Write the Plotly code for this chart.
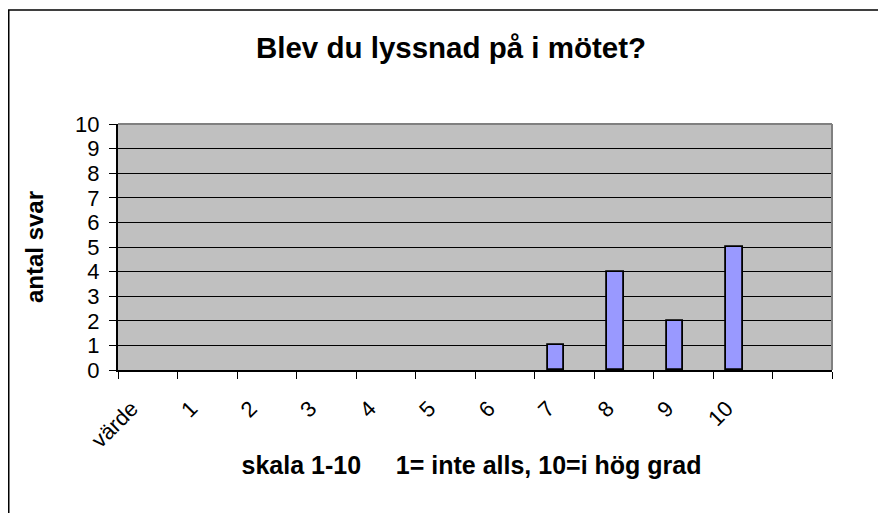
import plotly.graph_objects as go

categories = ["värde", "1", "2", "3", "4", "5", "6", "7", "8", "9", "10", " "]
counts = [None, None, None, None, None, None, None, 1, 4, 2, 5, None]
y_ticks = [0, 1, 2, 3, 4, 5, 6, 7, 8, 9, 10]

title_text = "Blev du lyssnad på i mötet?"
x_title = "skala 1-10" + "\u00a0" * 5 + "1= inte alls, 10=i hög grad" + "\u00a0"
y_title = "antal svar"

FONT = "Liberation Sans, Arial, sans-serif"

# page body has an 8px margin; figure is sized/offset to compensate
W, H = 878, 505
ML, MR, MT, MB = 110, 54, 116, 143
PW, PH = W - ML - MR, H - MT - MB

fig = go.Figure()
fig.add_trace(go.Bar(
    x=categories, y=counts,
    marker=dict(color="#9999FF", line=dict(color="black", width=1.8)),
    width=0.28, offset=-0.28,
    showlegend=False,
))

fig.update_layout(
    width=W, height=H, autosize=False,
    margin=dict(l=ML, r=MR, t=MT, b=MB),
    paper_bgcolor="white", plot_bgcolor="#C0C0C0",
    font=dict(family=FONT, color="black"),
    title=dict(text=f"<b>{title_text}</b>", font=dict(size=29.5, family=FONT, color="black"),
               x=0.4664, xref="paper", xanchor="center", y=0.921, yref="container", yanchor="middle"),
    xaxis=dict(
        type="category", categoryorder="array", categoryarray=categories,
        range=[-0.5, 11.5],
        tickson="boundaries", ticks="outside", ticklen=7, tickcolor="black", tickwidth=1,
        tickangle=-45, tickfont=dict(size=22, family=FONT),
        showline=True, linecolor="black", linewidth=2,
        showgrid=False, zeroline=False,
        ticklabelshift=-16, ticklabelstandoff=15,
        title=dict(text=f"<b>{x_title}</b>", font=dict(size=25, family=FONT), standoff=5),
    ),
    yaxis=dict(
        range=[0, 10], tickvals=y_ticks, ticktext=[str(v) for v in y_ticks],
        ticks="outside", ticklen=7, tickcolor="black", tickwidth=1,
        tickfont=dict(size=22, family=FONT),
        ticklabelstandoff=5,
        showline=True, linecolor="black", linewidth=2,
        showgrid=True, gridcolor="black", gridwidth=1,
        zeroline=False,
        title=dict(text=f"<b>{y_title}</b>", font=dict(size=24, family=FONT), standoff=25),
    ),
    bargap=0,
)

# plot area border (top and right, grey)
fig.add_shape(type="line", xref="paper", yref="paper", x0=0, x1=1, y0=1, y1=1,
              line=dict(color="#808080", width=2), layer="above")
fig.add_shape(type="line", xref="paper", yref="paper", x0=1, x1=1, y0=0, y1=1,
              line=dict(color="#808080", width=2), layer="above")
# chart border (only top and left visible)
bx = (0.75 - ML) / PW
by = (PH + MT - 2) / PH
fig.add_shape(type="path", xref="paper", yref="paper",
              path=f"M {bx:.4f},-1 L {bx:.4f},{by:.4f} L 2,{by:.4f}",
              line=dict(color="black", width=1.5), layer="above")

fig.write_html("out.html")
